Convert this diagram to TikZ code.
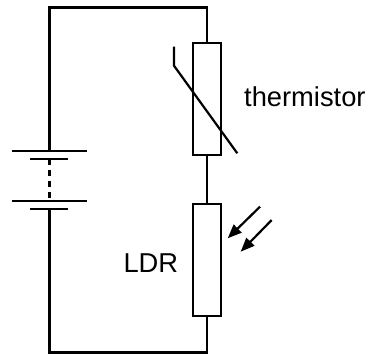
\documentclass[tikz,border=0pt]{standalone}
\usepackage{fontspec}
\setmainfont{Liberation Sans}
\usetikzlibrary{arrows.meta}
\begin{document}
\begin{tikzpicture}[x=1pt,y=-1pt,
  wire/.style={line width=2.2pt, line cap=rect},
  resbox/.style={draw, line width=2.2pt, minimum width=28pt, minimum height=112pt, inner sep=0pt, fill=white},
  lbl/.style={font=\fontsize{27.3}{30}\selectfont, anchor=base west, inner sep=0pt},
  light/.style={line width=2.2pt, -{Triangle[length=14pt,width=11pt]}}]
\useasboundingbox (0,0) rectangle (378,356);
% corners
\coordinate (tl) at (49.5,7.5);
\coordinate (tr) at (207.3,7.5);
\coordinate (bl) at (49.5,352.5);
\coordinate (br) at (207.3,352.5);
% battery
\coordinate (b1) at (49.5,151);
\coordinate (b2) at (49.5,159);
\coordinate (b3) at (49.5,201.3);
\coordinate (b4) at (49.5,209.3);
% components
\node[resbox] (th) at (207.3,98.85) {};
\node[resbox] (ldr) at (207.3,260) {};
% wires
\draw[wire] (th.north) -- (tr) -- (tl) -- (b1);
\draw[wire] (b4) -- (bl) -- (br) -- (ldr.south);
\draw[line width=2.2pt] (th.south) -- (ldr.north);
\draw[line width=2.2pt, dash pattern=on 6pt off 5pt] (b2) -- (b3);
% plates
\draw[line width=2.2pt] (11.7,151) -- (87.3,151);
\draw[line width=2.2pt] (30.3,159) -- (68.3,159);
\draw[line width=2.2pt] (11.7,201.3) -- (87.3,201.3);
\draw[line width=2.2pt] (30.3,209.3) -- (68.3,209.3);
% thermistor diagonal
\coordinate (d1) at (174,46.7);
\coordinate (d2) at (174,65.7);
\coordinate (d3) at (237.3,153.3);
\draw[line width=2.2pt] (d1) -- (d2) -- (d3);
% light arrows
\coordinate (a1s) at (260,206.7);
\coordinate (a1e) at (227.7,238.3);
\coordinate (a2s) at (271.7,220);
\coordinate (a2e) at (240.7,251.7);
\draw[light] (a1s) -- (a1e);
\draw[light] (a2s) -- (a2e);
% labels
\node[lbl] (tht) at (244,106) {thermistor};
\node[lbl] (ldt) at (123.3,272.7) {LDR};
\end{tikzpicture}
\end{document}
